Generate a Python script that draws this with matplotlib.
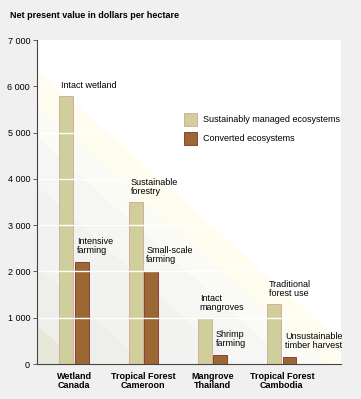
import matplotlib.pyplot as plt
from matplotlib.patches import Polygon

# Data
groups = ['Wetland\nCanada', 'Tropical Forest\nCameroon', 'Mangrove\nThailand', 'Tropical Forest\nCambodia']
sustainable = [5800, 3500, 1000, 1300]
converted = [2200, 2000, 200, 150]
sustainable_labels = ['Intact wetland', 'Sustainable\nforestry', 'Intact\nmangroves', 'Traditional\nforest use']
converted_labels = ['Intensive\nfarming', 'Small-scale\nfarming', 'Shrimp\nfarming', 'Unsustainable\ntimber harvest']
yticks = [0, 1000, 2000, 3000, 4000, 5000, 6000, 7000]

plt.rcParams['font.family'] = ['Liberation Sans', 'DejaVu Sans']

SUST = '#cfcf9c'
CONV = '#9b6733'
BG = '#f0f0f0'

fig = plt.figure(figsize=(3.61, 3.99), dpi=100, facecolor=BG)
ax = fig.add_axes([0.1025, 0.0877, 0.842, 0.812])
ax.set_facecolor('white')


# faint diagonal background bands (lower-left triangles)
def band(top, color):
    s = 0.84
    ax.add_patch(Polygon([(0, top), (top / s, 0), (0, 0)], closed=True,
                         transform=ax.transAxes, facecolor=color,
                         edgecolor='none', zorder=0))


band(0.91, '#fffcf0')
band(0.80, '#fbfbf6')
band(0.70, '#f6f6f4')
band(0.55, '#f2f2f0')
band(0.30, '#eeeeea')
band(0.12, '#e8e8da')

x = list(range(len(groups)))
w = 0.2
ax.bar([i - w / 2 - 0.01 for i in x], sustainable, width=w, color=SUST,
       edgecolor='#d9a0a0', linewidth=0.6, zorder=2)
ax.bar([i + w / 2 + 0.01 for i in x], converted, width=w, color=CONV,
       edgecolor='#8a2a2a', linewidth=0.6, zorder=2)

# white grid lines drawn over the bars
for t in yticks[1:]:
    ax.axhline(t, color='white', linewidth=1.0, zorder=3)

for i in x:
    ax.text(i - w + 0.015, sustainable[i] + 120, sustainable_labels[i], ha='left', va='bottom',
            fontsize=6.5, linespacing=1.0, zorder=4)
    ax.text(i + 0.045, converted[i] + 150, converted_labels[i], ha='left', va='bottom',
            fontsize=6.5, linespacing=1.0, zorder=4)

ax.set_xlim(-0.534, 3.853)
ax.set_ylim(0, 7000)
ax.set_yticks(yticks)
ax.set_yticklabels([f'{t:,}'.replace(',', ' ') for t in yticks], fontsize=6.5)
ax.set_xticks(x)
ax.set_xticklabels(groups, fontsize=6.5, fontweight='bold', linespacing=1.0)
ax.tick_params(axis='x', length=0, pad=6)
ax.tick_params(axis='y', length=3, width=0.6, color='#444444', pad=2)
for s in ['top', 'right']:
    ax.spines[s].set_visible(False)
for s in ['left', 'bottom']:
    ax.spines[s].set_color('#444444')
    ax.spines[s].set_linewidth(0.8)
    ax.spines[s].set_zorder(5)

# legend drawn as patches
ax.add_patch(plt.Rectangle((0.485, 0.735), 0.042, 0.04, transform=ax.transAxes,
                           facecolor=SUST, edgecolor='#d9a0a0', linewidth=0.6, zorder=4))
ax.add_patch(plt.Rectangle((0.485, 0.677), 0.042, 0.04, transform=ax.transAxes,
                           facecolor=CONV, edgecolor='#8a2a2a', linewidth=0.6, zorder=4))
ax.text(0.547, 0.755, 'Sustainably managed ecosystems', transform=ax.transAxes,
        fontsize=6.5, va='center', zorder=4)
ax.text(0.547, 0.697, 'Converted ecosystems', transform=ax.transAxes,
        fontsize=6.5, va='center', zorder=4)

fig.text(0.028, 0.962, 'Net present value in dollars per hectare', fontsize=6.5,
         fontweight='bold', va='center')

fig.savefig('out.png', dpi=100, facecolor=BG)
